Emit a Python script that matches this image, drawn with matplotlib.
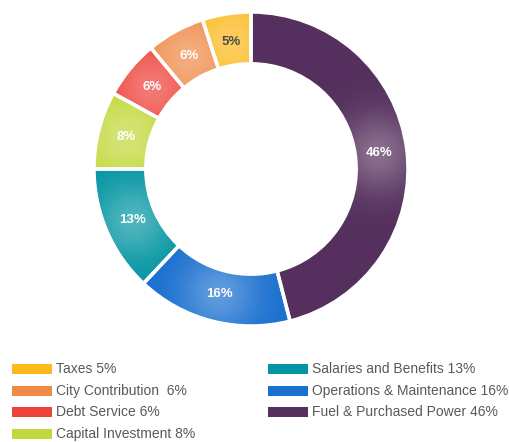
import matplotlib
matplotlib.use("Agg")
import numpy as np
import matplotlib.pyplot as plt
from matplotlib.patches import Rectangle
from matplotlib.colors import to_rgb

# data, clockwise from the top
categories = ["Fuel & Purchased Power", "Operations & Maintenance", "Salaries and Benefits",
              "Capital Investment", "Debt Service", "City Contribution", "Taxes"]
values = [46, 16, 13, 8, 6, 6, 5]
colors = ["#55305e", "#1a70cf", "#0395a2", "#c2d83a", "#ee4139", "#ef8a47", "#fbb91b"]
label_colors = ["white"] * 6 + ["#4a4a4a"]

# legend, column by column
legend_order = ["Taxes", "City Contribution", "Debt Service", "Capital Investment",
                "Salaries and Benefits", "Operations & Maintenance", "Fuel & Purchased Power"]
legend_text = ["Taxes 5%", "City Contribution  6%", "Debt Service 6%", "Capital Investment 8%",
               "Salaries and Benefits 13%", "Operations & Maintenance 16%", "Fuel & Purchased Power 46%"]

plt.rcParams["font.family"] = "Liberation Sans"

W, H = 509, 442
fig = plt.figure(figsize=(W / 100, H / 100), dpi=100)
cx, cy, r = 251, 169, 157
ax = fig.add_axes([(cx - r) / W, (H - cy - r) / H, 2 * r / W, 2 * r / H])

wedges, _ = ax.pie(values, colors=colors, startangle=90, counterclock=False,
                   radius=1, wedgeprops=dict(width=0.33, linewidth=0))

# soft light spot in each wedge, like the original's shading
g = np.linspace(-1, 1, 400)
X, Y = np.meshgrid(g, g[::-1])
theta = 90.0
mids = []
for v, w, c in zip(values, wedges, colors):
    mid = np.deg2rad(theta - v * 3.6 / 2)
    theta -= v * 3.6
    mids.append(mid)
    px, py = 0.82 * np.cos(mid), 0.82 * np.sin(mid)
    d2 = (X - px) ** 2 + (Y - py) ** 2
    k = 0.3 * np.exp(-d2 / 0.06)
    base = np.array(to_rgb(c))
    img = base[None, None, :] * (1 - k[..., None]) + k[..., None]
    im = ax.imshow(img, extent=(-1, 1, -1, 1), zorder=2)
    im.set_clip_path(w)

# white separators on top
ax.pie(values, colors=["none"] * len(values), startangle=90, counterclock=False, radius=1,
       wedgeprops=dict(width=0.33, edgecolor="white", linewidth=2.5, zorder=3))

for v, mid, lc in zip(values, mids, label_colors):
    ax.text(0.82 * np.cos(mid), 0.82 * np.sin(mid), f"{v}%", ha="center", va="center",
            color=lc, fontsize=9.5, fontweight="bold", zorder=4)
ax.set_xlim(-1, 1)
ax.set_ylim(-1, 1)
ax.set_aspect("equal")
ax.axis("off")

# legend drawn by hand: two columns, 4 + 3 rows
col_x = [12, 268]
row_y = [369, 391, 412, 434]
for i, (name, txt) in enumerate(zip(legend_order, legend_text)):
    col, row = (0, i) if i < 4 else (1, i - 4)
    x0, y0 = col_x[col], row_y[row]
    fig.patches.append(Rectangle((x0 / W, 1 - (y0 + 5) / H), 40 / W, 10 / H,
                                 facecolor=colors[categories.index(name)],
                                 transform=fig.transFigure, figure=fig))
    fig.text((x0 + 44) / W, 1 - y0 / H, txt, ha="left", va="center",
             fontsize=10, color="#58595b")

fig.savefig("out.png", dpi=100)
